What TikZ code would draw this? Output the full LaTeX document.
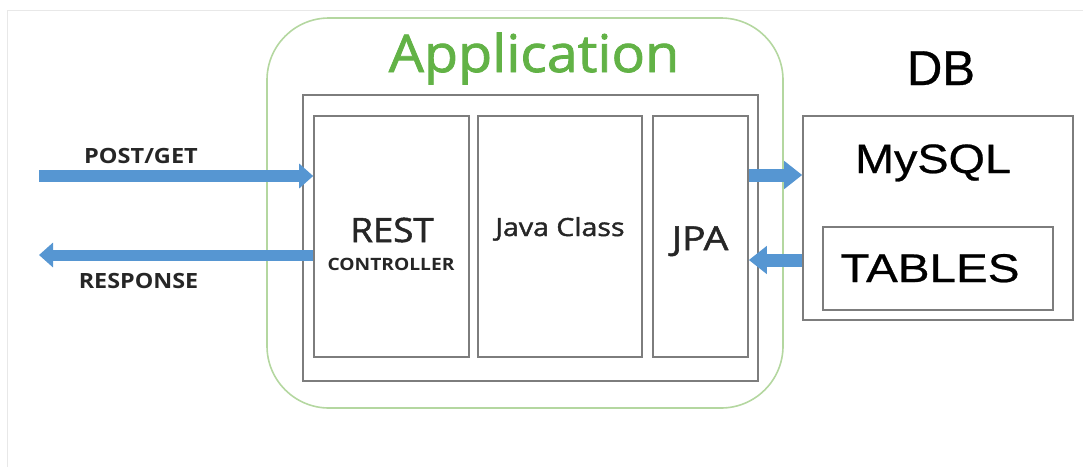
\documentclass[tikz,border=0pt]{standalone}
\usepackage{fontspec}
\setmainfont{Open Sans}
\newfontfamily\osmed[FakeBold=1.5]{Open Sans}
\newfontfamily\arialfont[FakeBold=0.6]{Liberation Sans}
\usetikzlibrary{arrows.meta}
\definecolor{appgreen}{RGB}{98,178,70}
\definecolor{framegreen}{RGB}{180,215,160}
\definecolor{arrowblue}{RGB}{86,150,210}
\definecolor{boxgray}{RGB}{125,125,125}
\definecolor{framegray}{RGB}{232,232,232}
\tikzset{
  box/.style={draw=boxgray, line width=1.6pt, rectangle, inner sep=0pt},
  lbl/.style={inner sep=0pt, anchor=base, text=black!85},
  flow/.style={draw=arrowblue, line width=12pt, -{Triangle[length=14pt,width=24pt]}},
  dbflow/.style={draw=arrowblue, line width=13pt, -{Triangle[length=18pt,width=27pt]}},
}
\newcommand{\sx}[2]{\scalebox{#1}[1]{#2}}
\begin{document}
\begin{tikzpicture}[x=1pt,y=-1pt]
\useasboundingbox (0,0) rectangle (1083,467);
% faint frame
\draw[framegray, line width=1pt] (7,467) -- (7,10) -- (1083,10);
% application frame
\node[draw=framegreen, line width=1.6pt, rounded corners=62pt, minimum width=516pt, minimum height=390pt, inner sep=0pt] (app) at (525,213) {};
\node[lbl, text=appgreen, font=\osmed\fontsize{52}{52}\selectfont] (apptitle) at (534,72) {\sx{1.07}{Application}};
\node[box, minimum width=455pt, minimum height=286pt] (appin) at (530.5,238) {};
\node[box, minimum width=155pt, minimum height=241pt] (rest) at (391.5,236.5) {};
\node[box, minimum width=164pt, minimum height=241pt] (java) at (560,236.5) {};
\node[box, minimum width=95pt, minimum height=241pt] (jpa) at (700.5,236.5) {};
\node[lbl, font=\osmed\fontsize{33.6}{34}\selectfont] (resttxt) at (392,242) {\sx{1.09}{REST}};
\node[lbl, font=\bfseries\fontsize{17}{17}\selectfont] (ctrltxt) at (391,270) {\sx{1.13}{CONTROLLER}};
\node[lbl, font=\osmed\fontsize{25}{25}\selectfont] (javatxt) at (560,236) {\sx{1.14}{Java Class}};
\node[lbl, font=\osmed\fontsize{33}{33}\selectfont] (jpatxt) at (700,250) {\sx{1.18}{JPA}};
% DB
\node[lbl, text=black, font=\arialfont\fontsize{49}{49}\selectfont] (dbtitle) at (941,85) {DB};
\node[box, minimum width=270pt, minimum height=204pt] (db) at (938,218) {};
\node[lbl, text=black, font=\arialfont\fontsize{41}{41}\selectfont] (mysql) at (933,173) {\sx{1.14}{MySQL}};
\node[box, minimum width=230pt, minimum height=83pt] (tables) at (938,268.5) {};
\node[lbl, text=black, font=\arialfont\fontsize{40}{40}\selectfont] (tabtxt) at (930,282) {\sx{1.19}{TABLES}};
% left arrows
\coordinate (inL) at (39,176);
\coordinate (outL) at (39,255);
\draw[flow] (inL) -- (inL -| rest.west);
\draw[flow, line width=11pt] (outL -| rest.west) -- (outL);
\node[lbl, font=\bfseries\fontsize{21}{21}\selectfont] (postget) at (141,163) {\sx{1.12}{POST/GET}};
\node[lbl, font=\bfseries\fontsize{21}{21}\selectfont] (resp) at (138.5,288) {\sx{1.11}{RESPONSE}};
% db arrows
\coordinate (toDB) at (0,175);
\coordinate (fromDB) at (0,260);
\draw[dbflow] (toDB -| jpa.east) -- (toDB -| db.west);
\draw[dbflow] (fromDB -| db.west) -- (fromDB -| jpa.east);
\end{tikzpicture}
\end{document}
